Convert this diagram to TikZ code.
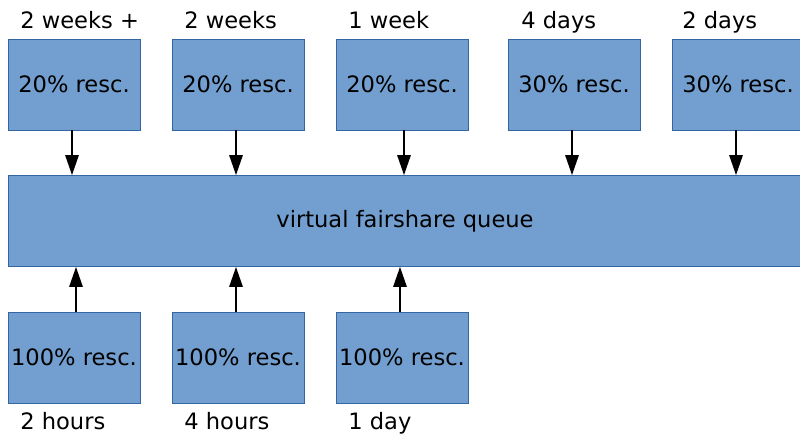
\documentclass[tikz,border=0pt]{standalone}
\usepackage{fontspec}
\setmainfont{DejaVu Sans}
\usetikzlibrary{arrows.meta}
\definecolor{boxfill}{RGB}{114,159,207}
\definecolor{boxline}{RGB}{52,101,164}
\begin{document}
\begin{tikzpicture}[x=0.02cm,y=-0.02cm,
  box/.style={draw=boxline,fill=boxfill,line width=0.5pt,minimum width=2.64cm,minimum height=1.82cm,inner sep=0pt,font=\fontsize{12.85}{14}\selectfont},
  lbl/.style={anchor=base west,inner sep=0pt,font=\fontsize{12.85}{14}\selectfont},
  arr/.style={line width=0.8pt,-{Triangle[length=0.4cm,width=0.27cm]}}]
\useasboundingbox (0,0) rectangle (800,433);
\fill[white] (0,0) rectangle (800,433);
\node[box] (t1) at (74,84.5) {20\% resc.};
\node[box] (t2) at (238,84.5) {20\% resc.};
\node[box] (t3) at (402,84.5) {20\% resc.};
\node[box] (t4) at (574,84.5) {30\% resc.};
\node[box] (t5) at (738,84.5) {30\% resc.};
\node[box,minimum width=15.88cm] (q) at (405,221) {virtual fairshare queue};
\node[box] (b1) at (74,357.5) {100\% resc.};
\node[box] (b2) at (238,357.5) {100\% resc.};
\node[box] (b3) at (402,357.5) {100\% resc.};
\node[lbl] (l1) at (20,28) {2 weeks +};
\node[lbl] (l2) at (184,28) {2 weeks};
\node[lbl] (l3) at (348,28) {1 week};
\node[lbl] (l4) at (521,28) {4 days};
\node[lbl] (l5) at (682,28) {2 days};
\node[lbl] (m1) at (20,429) {2 hours};
\node[lbl] (m2) at (184,429) {4 hours};
\node[lbl] (m3) at (348,429) {1 day};
\draw[arr] ([xshift=-0.04cm]t1.south) -- ([xshift=-0.04cm]t1.south |- q.north);
\draw[arr] ([xshift=-0.04cm]t2.south) -- ([xshift=-0.04cm]t2.south |- q.north);
\draw[arr] ([xshift=0.04cm]t3.south) -- ([xshift=0.04cm]t3.south |- q.north);
\draw[arr] ([xshift=-0.04cm]t4.south) -- ([xshift=-0.04cm]t4.south |- q.north);
\draw[arr] ([xshift=-0.04cm]t5.south) -- ([xshift=-0.04cm]t5.south |- q.north);
\draw[arr] ([xshift=0.04cm]b1.north) -- ([xshift=0.04cm]b1.north |- q.south);
\draw[arr] ([xshift=-0.04cm]b2.north) -- ([xshift=-0.04cm]b2.north |- q.south);
\draw[arr] ([xshift=-0.04cm]b3.north) -- ([xshift=-0.04cm]b3.north |- q.south);
\end{tikzpicture}
\end{document}
